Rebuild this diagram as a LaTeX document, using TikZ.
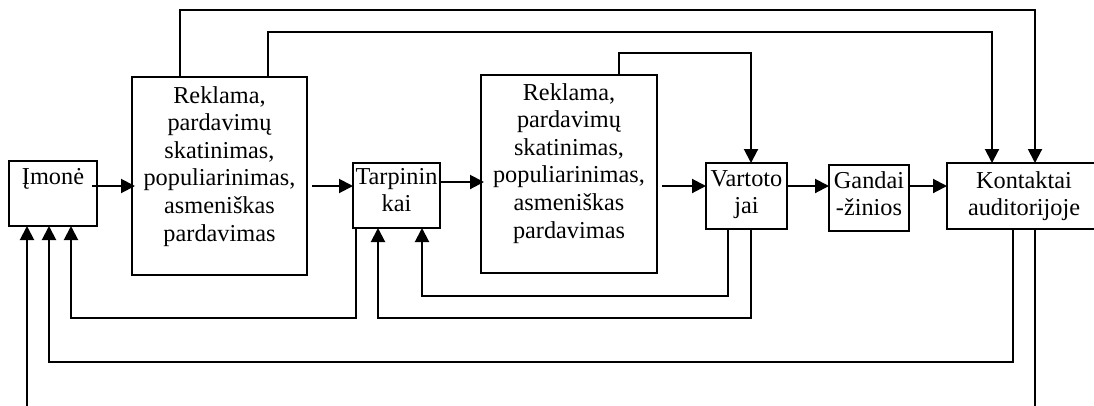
\documentclass[tikz,border=0pt]{standalone}
\usepackage{fontspec}
\setmainfont{Liberation Serif}
\usetikzlibrary{arrows.meta,calc}
\begin{document}
\begin{tikzpicture}[x=1pt,y=-1pt,
  box/.style={draw,line width=1.8pt,inner sep=0pt,outer sep=0pt},
  txt/.style={font=\fontsize{24.3}{27.6}\selectfont,align=center,inner sep=0pt},
  link/.style={line width=2pt,-{Triangle[length=14pt,width=14pt]}},
  wire/.style={line width=1.6pt}]
\useasboundingbox (0,0) rectangle (1094,405);
\clip (0,0) rectangle (1094,405);

% levels of the horizontal runs
\coordinate (lvA) at (0,186);
\coordinate (lvB) at (0,182);

% boxes
\node[box,minimum width=88pt,minimum height=65pt,
  label={[txt,anchor=north,yshift=-7pt]north:{Įmonė}}] (imone) at (53,193.5) {};
\node[box,minimum width=175pt,minimum height=198pt,
  label={[txt,anchor=north,yshift=-9pt]north:{Reklama,\\pardavimų\\skatinimas,\\populiarinimas,\\asmeniškas\\pardavimas}}] (r1) at (219.5,176) {};
\node[box,minimum width=87pt,minimum height=65pt,
  label={[txt,anchor=north,yshift=-5pt]north:{Tarpinin\\kai}}] (tarp) at (396.5,195.5) {};
\node[box,minimum width=176pt,minimum height=198pt,
  label={[txt,anchor=north,yshift=-8pt]north:{Reklama,\\pardavimų\\skatinimas,\\populiarinimas,\\asmeniškas\\pardavimas}}] (r2) at (569,174) {};
\node[box,minimum width=81pt,minimum height=66pt,
  label={[txt,anchor=north,yshift=-7pt]north:{Vartoto\\jai}}] (vart) at (746.5,196) {};
\node[box,minimum width=80pt,minimum height=66pt,
  label={[txt,anchor=north,yshift=-6pt]north:{Gandai\\-žinios}}] (gand) at (869,198) {};
\node[box,minimum width=154pt,minimum height=66pt,
  label={[txt,anchor=north,yshift=-8pt]north:{Kontaktai\\auditorijoje}}] (kont) at (1024,196) {};

% main chain
\draw[link,shorten <=-5pt,shorten >=-3pt] (imone.east |- lvA) -- (r1.west |- lvA);
\draw[link,shorten <=5pt] (r1.east |- lvA) -- (tarp.west |- lvA);
\draw[link,shorten >=-3pt] (tarp.east |- lvB) -- (r2.west |- lvB);
\draw[link,shorten <=5pt] (r2.east |- lvA) -- (vart.west |- lvA);
\draw[link] (vart.east |- lvA) -- (gand.west |- lvA);
\draw[link] (gand.east |- lvA) -- (kont.west |- lvA);

% runs over the top
\draw[link] ([xshift=48pt]r1.north west) -- ++(0,-67) -| ([xshift=88pt]kont.north west);
\draw[link] ([xshift=136pt]r1.north west) -- ++(0,-45) -| ([xshift=45pt]kont.north west);
\draw[link] ([xshift=138pt]r2.north west) -- ++(0,-22) -| ([xshift=45pt]vart.north west);

% feedback runs underneath
\draw[link] ([xshift=3pt]tarp.south west) -- ++(0,90) -| ([xshift=62pt]imone.south west);
\draw[link] ([xshift=45pt]vart.south west) -- ++(0,89) -| ([xshift=25pt]tarp.south west);
\draw[link] ([xshift=22pt]vart.south west) -- ++(0,67) -| ([xshift=69pt]tarp.south west);
\draw[link] ([xshift=66pt]kont.south west) -- ++(0,133) -| ([xshift=40pt]imone.south west);

% open ends at the lower edge
\coordinate (outR) at ($(kont.south west)+(88,180)$);
\coordinate (outL) at ($(imone.south west)+(18,183)$);
\draw[wire] ([xshift=88pt]kont.south west) -- (outR);
\draw[link] (outL) -- ([xshift=18pt]imone.south west);
\end{tikzpicture}
\end{document}
